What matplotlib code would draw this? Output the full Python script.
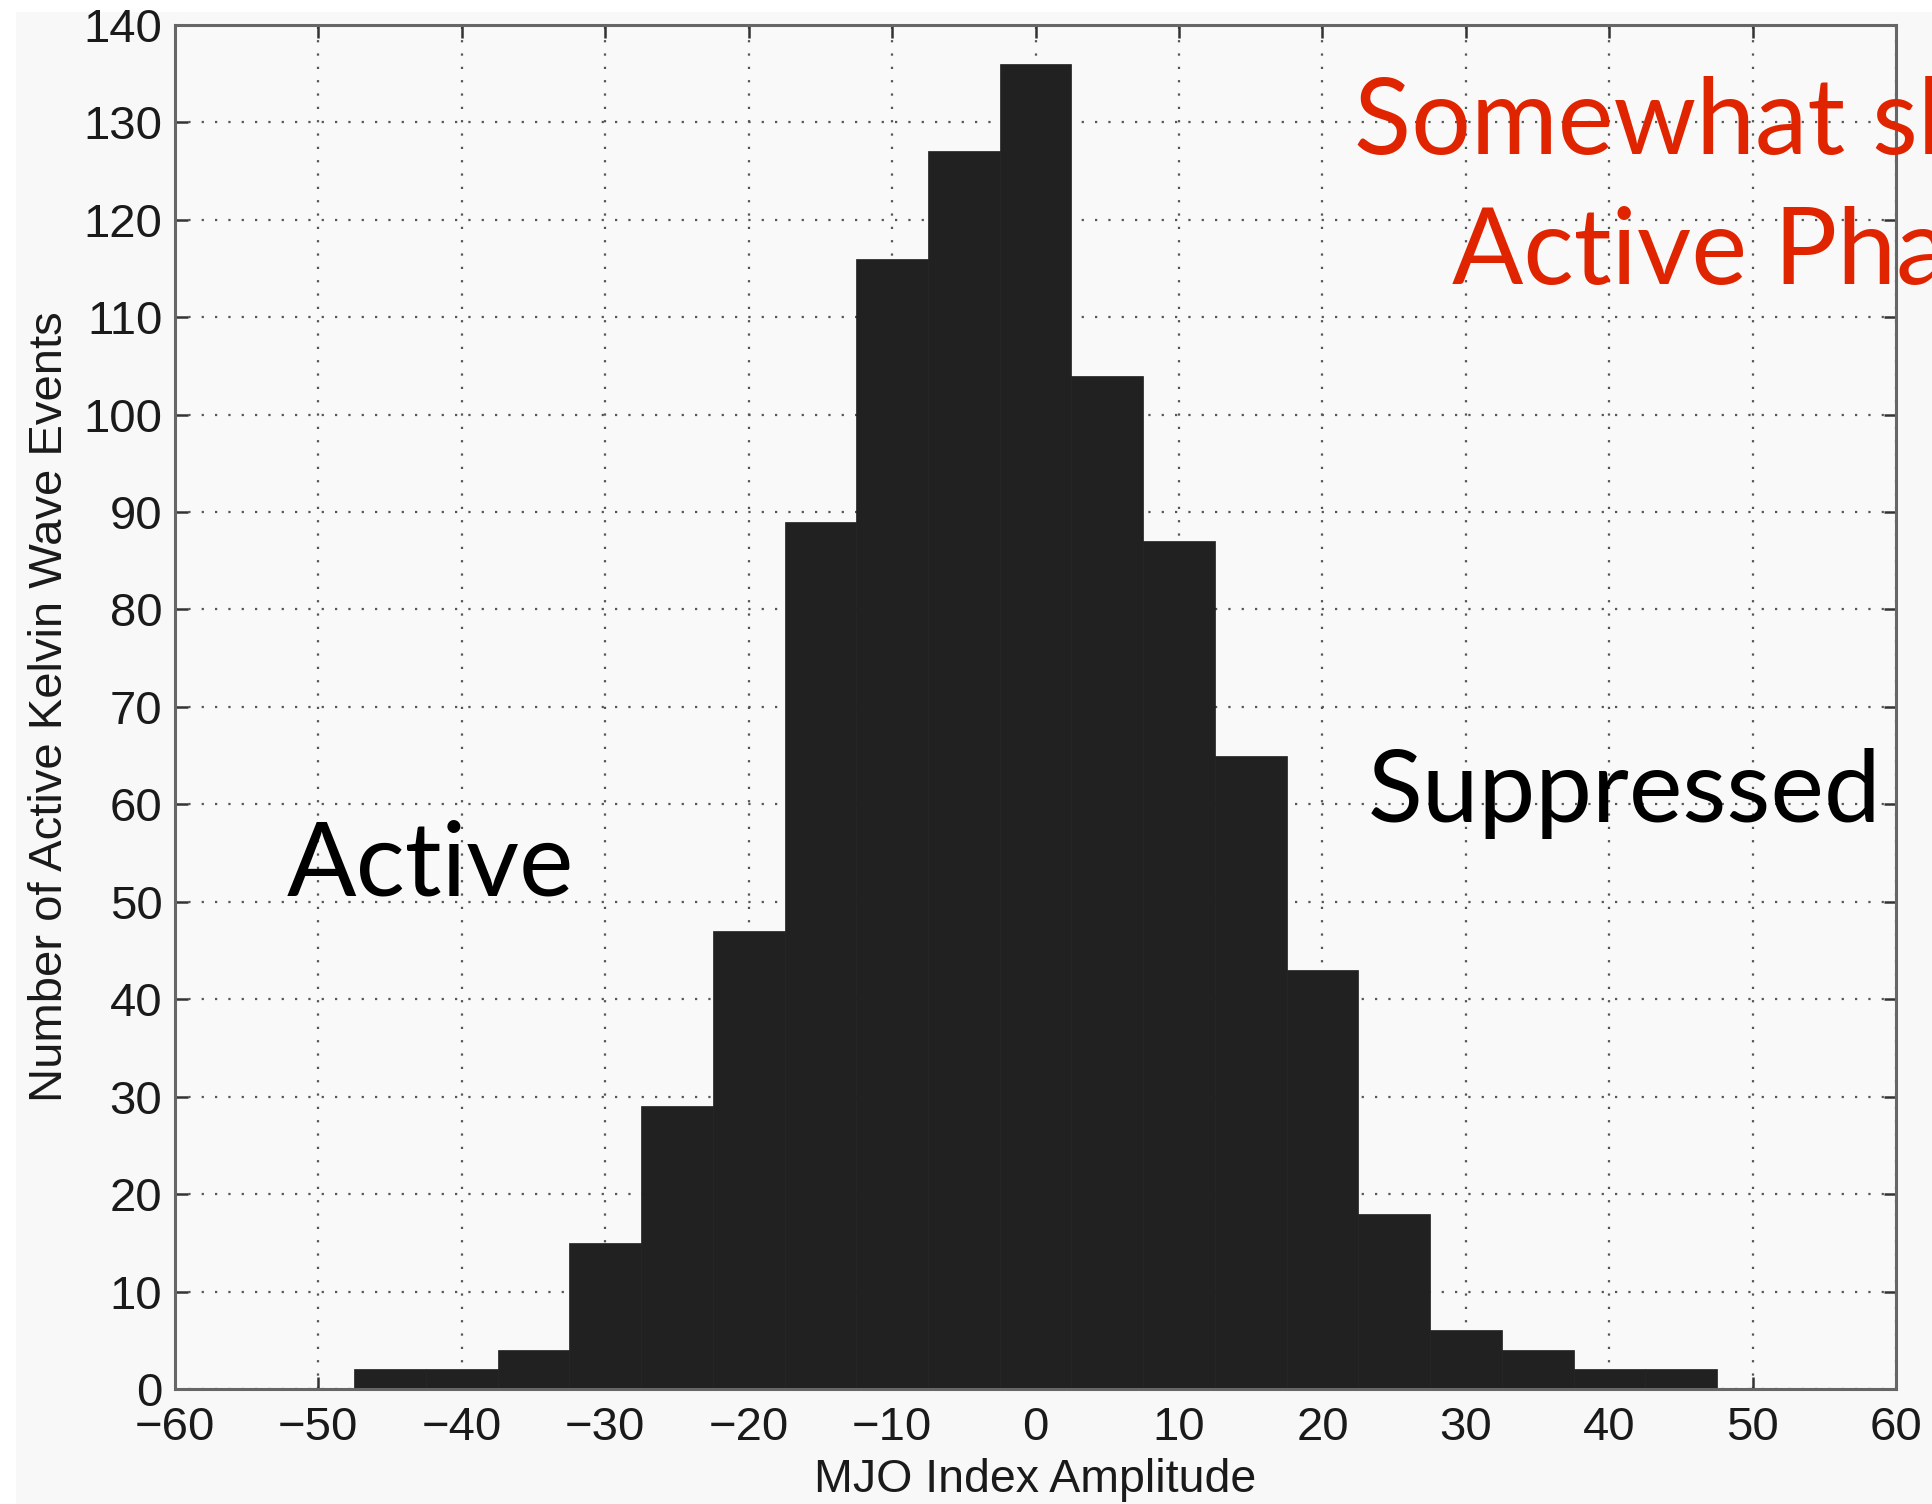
import numpy as np
import matplotlib
matplotlib.use("Agg")
import matplotlib.pyplot as plt
from matplotlib.patches import Rectangle

# histogram bins (centres) and counts
bin_centres = [-45, -40, -35, -30, -25, -20, -15, -10, -5, 0,
               5, 10, 15, 20, 25, 30, 35, 40, 45]
counts = [2, 2, 4, 15, 29, 47, 89, 116, 127, 136,
          104, 87, 65, 43, 18, 6, 4, 2, 2]
bin_width = 5
x_ticks = list(range(-60, 61, 10))
y_ticks = list(range(0, 141, 10))

plt.rcParams['font.family'] = ['Liberation Sans', 'DejaVu Sans']

fig = plt.figure(figsize=(19.33, 15.04), dpi=100, facecolor='white')
# grey screenshot area (white strip left and top)
fig.patches.append(Rectangle((16 / 1933, 0), 1, 1 - 12 / 1504,
                             transform=fig.transFigure, facecolor='#f8f8f8',
                             edgecolor='none', zorder=-10))

ax = fig.add_axes([0.0905, 0.0765, 0.8905, 0.907])
ax.set_facecolor('#f9f9f9')
ax.bar(bin_centres, counts, width=bin_width, color='#212121',
       edgecolor='#212121', linewidth=0.5, zorder=2)

ax.set_xlim(-60, 60)
ax.set_ylim(0, 140)
ax.set_xticks(x_ticks)
ax.set_yticks(y_ticks)
ax.set_xticklabels([str(t).replace('-', '\u2212') for t in x_ticks])
ax.tick_params(direction='in', length=9, width=1.8, color='#333333',
               top=True, right=True, labelsize=34, labelcolor='#1a1a1a')
ax.tick_params(axis='x', pad=12)
ax.tick_params(axis='y', pad=9)
ax.grid(True, color='#555555', linestyle=(0, (1, 5)), linewidth=1.6)
ax.set_axisbelow(True)
for sp in ax.spines.values():
    sp.set_color('#666666')
    sp.set_linewidth(2.2)

ax.set_xlabel('MJO Index Amplitude', fontsize=33.5, color='#1a1a1a', labelpad=6)
ax.set_ylabel('Number of Active Kelvin Wave Events', fontsize=34,
              color='#1a1a1a', labelpad=8)

big = ['Lato', 'DejaVu Sans']
fig.text(287 / 1933, 1 - 896 / 1504, 'Active', fontsize=74, family=big,
         color='black', va='baseline', ha='left')
fig.text(1368 / 1933, 1 - 822 / 1504, 'Suppressed', fontsize=73, family=big,
         color='black', va='baseline', ha='left')
fig.text(1354 / 1933, 1 - 154 / 1504, 'Somewhat skewed toward', fontsize=76,
         family=big, color='#e12400', va='baseline', ha='left')
fig.text(1452 / 1933, 1 - 284 / 1504, 'Active Phase', fontsize=76,
         family=big, color='#e12400', va='baseline', ha='left')

fig.savefig('out.png', dpi=100, facecolor=fig.get_facecolor())
